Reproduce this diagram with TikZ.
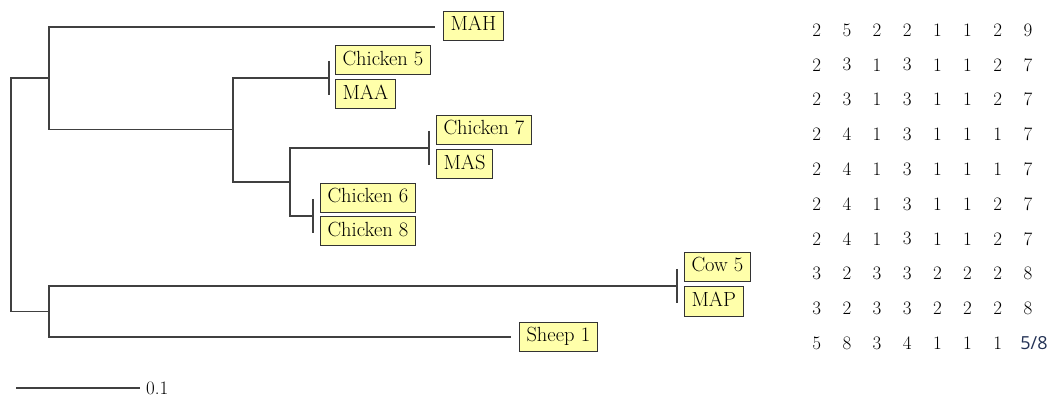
\documentclass[tikz,border=0pt]{standalone}
\usepackage{fontspec}
\newfontfamily\fracfont{Open Sans}
\definecolor{leaffill}{RGB}{255,255,170}
\definecolor{branch}{RGB}{64,64,64}
\definecolor{fracblue}{RGB}{35,50,85}
\begin{document}
\begin{tikzpicture}[x=1pt,y=-1pt,
  leaf/.style={draw=black!80, fill=leaffill, line width=1pt, inner xsep=7pt,
    inner ysep=0pt, minimum height=29pt, text height=14pt, text depth=4pt,
    anchor=west, font=\fontsize{20.5}{24}\selectfont},
  branchline/.style={draw=branch, line width=1.1pt},
  cell/.style={font=\fontsize{19}{23}\selectfont, inner sep=0pt}]
\useasboundingbox (0,0) rectangle (1050,398);

% leaf labels
\node[leaf] (mah) at (443,26)    {MAH};
\node[leaf] (ch5) at (335,60.5)  {Chicken 5};
\node[leaf] (maa) at (335,94.5)  {MAA};
\node[leaf] (ch7) at (436,130)   {Chicken 7};
\node[leaf] (mas) at (436,164.5) {MAS};
\node[leaf] (ch6) at (320,198)   {Chicken 6};
\node[leaf] (ch8) at (320,231.5) {Chicken 8};
\node[leaf] (cow) at (684,267)   {Cow 5};
\node[leaf] (map) at (684,301.5) {MAP};
\node[leaf] (shp) at (519,336.5) {Sheep 1};

% internal nodes of the tree
\coordinate (root) at (11,194.5);
\coordinate (up)   at (49,78);
\coordinate (low)  at (49,311.5);
\coordinate (cA)   at (233,129.5);
\coordinate (cB)   at (290,182);
\coordinate (t5)   at (329,78);
\coordinate (t7)   at (429,148);
\coordinate (t6)   at (313,216);
\coordinate (tc)   at (677,286);
\coordinate (mahEnd) at (435,27);
\coordinate (shpEnd) at (511,337);

% branches
\draw[branchline] (root) |- (up);
\draw[branchline] (root) |- (low);
\draw[branchline] (up) |- (mahEnd);
\draw[branchline] (up) |- (cA);
\draw[branchline] (cA) |- (t5);
\draw[branchline] (cA) |- (cB);
\draw[branchline] (cB) |- (t7);
\draw[branchline] (cB) |- (t6);
\draw[branchline] (low) |- (tc);
\draw[branchline] (low) |- (shpEnd);

% zero-length clades
\foreach \t in {t5,t7,t6,tc}
  \draw[branchline] ([yshift=17pt]\t) -- ([yshift=-17pt]\t);

% scale bar
\coordinate (sbA) at (16,388);
\coordinate (sbB) at (140,388);
\draw[branchline] (sbA) -- (sbB);
\node[anchor=west, inner sep=0pt, font=\fontsize{19}{23}\selectfont] (sbl) at (146,388) {0.1};

% character table
\foreach \row [count=\i] in {
  {2,5,2,2,1,1,2,9},
  {2,3,1,3,1,1,2,7},
  {2,3,1,3,1,1,2,7},
  {2,4,1,3,1,1,1,7},
  {2,4,1,3,1,1,1,7},
  {2,4,1,3,1,1,2,7},
  {2,4,1,3,1,1,2,7},
  {3,2,3,3,2,2,2,8},
  {3,2,3,3,2,2,2,8},
  {5,8,3,4,1,1,1,}}
  \foreach \v [count=\j] in \row
    \node[cell] (d-\i-\j) at ({816.7+30.18*(\j-1)},{30+34.8*(\i-1)}) {\v};
\node[inner sep=0pt, text=fracblue, font=\fracfont\fontsize{18}{21}\selectfont] (d-10-8b) at (1034,343) {5/8};
\end{tikzpicture}
\end{document}
